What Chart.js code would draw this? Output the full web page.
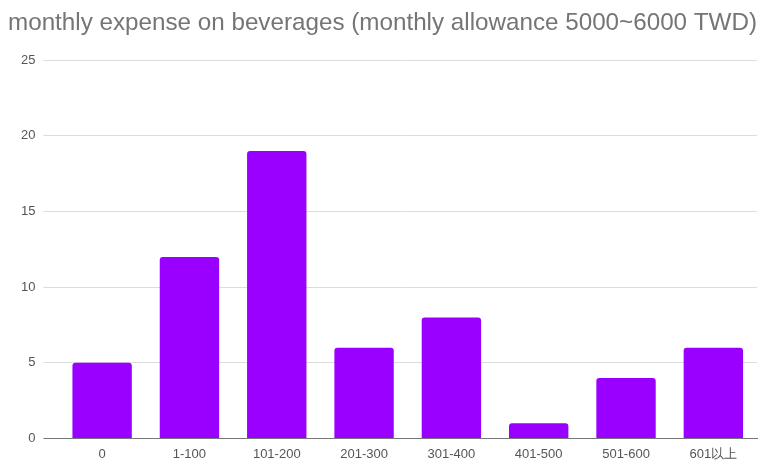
<!DOCTYPE html>
<html>
<head>
<meta charset="utf-8">
<script src="https://cdn.jsdelivr.net/npm/chart.js@4"></script>
<style>
  html, body { margin: 0; padding: 0; background: #fff; }
  #wrap { width: 768px; height: 464px; }
</style>
</head>
<body>
<div id="wrap"><canvas id="expenseChart"></canvas></div>
<script>
const categories = ['0', '1-100', '101-200', '201-300', '301-400', '401-500', '501-600', '601以上'];
const counts = [5, 12, 19, 6, 8, 1, 4, 6];
const yTicks = [0, 5, 10, 15, 20, 25];

const data = {
  labels: categories,
  datasets: [
    {
      label: 'count',
      data: counts,
      backgroundColor: '#9900ff',
      borderWidth: 0,
      borderRadius: { topLeft: 3, topRight: 3 },
      borderSkipped: 'bottom',
      categoryPercentage: 1,
      barPercentage: 0.68,
    },
  ],
};

// zero line is darker than the other grid lines
const gridColor = (ctx) => (ctx.tick && ctx.tick.value === 0 ? '#777' : '#dcdcdc');

const options = {
  responsive: true,
  maintainAspectRatio: false,
  animation: false,
  layout: { padding: { left: 8, right: 11, top: 2, bottom: 2 } },
  plugins: {
    legend: { display: false },
    tooltip: { enabled: false },
    title: {
      display: true,
      text: 'monthly expense on beverages (monthly allowance 5000~6000 TWD)',
      align: 'start',
      color: '#757575',
      font: { family: 'Liberation Sans, Arial, sans-serif', size: 24.4, weight: 'normal' },
      padding: { top: 7, bottom: 22 },
    },
  },
  scales: {
    x: {
      grid: { display: false },
      border: { display: true, color: '#777', width: 1 },
      ticks: {
        color: '#555',
        font: { family: 'Liberation Sans, Arial, sans-serif', size: 13 },
        padding: 0,
      },
    },
    y: {
      min: 0,
      max: yTicks[yTicks.length - 1],
      afterBuildTicks: (axis) => { axis.ticks = yTicks.map(v => ({ value: v })); },
      afterFit: (axis) => { axis.width += 5; },
      border: { display: false },
      grid: { color: gridColor, tickLength: 15, tickColor: gridColor },
      ticks: {
        color: '#555',
        font: { family: 'Liberation Sans, Arial, sans-serif', size: 13 },
        padding: 8,
      },
    },
  },
};

new Chart(document.getElementById('expenseChart'), {
  type: 'bar',
  data: data,
  options: options,
});
</script>
</body>
</html>
